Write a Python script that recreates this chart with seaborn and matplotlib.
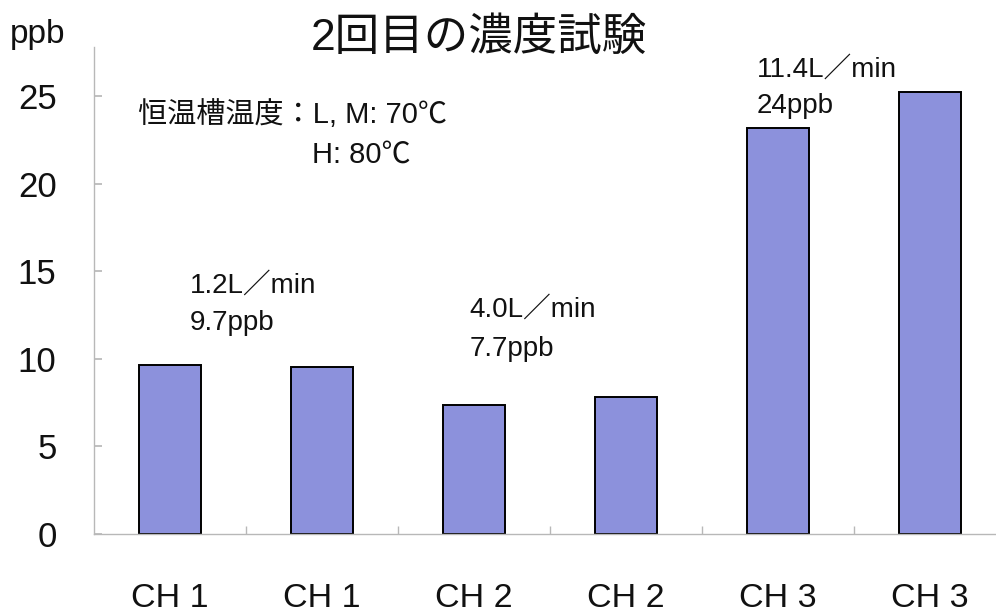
import matplotlib
matplotlib.use("Agg")
import matplotlib.pyplot as plt
import seaborn as sns
import pandas as pd

# data
channels = ["CH 1", "CH 1", "CH 2", "CH 2", "CH 3", "CH 3"]
conc_ppb = [9.66, 9.56, 7.38, 7.82, 23.2, 25.2]
flow_notes = ["1.2L／min", "4.0L／min", "11.4L／min"]
mean_notes = ["9.7ppb", "7.7ppb", "24ppb"]
yticks = [0, 5, 10, 15, 20, 25]

sns.set_theme(style="white")
plt.rcParams["font.family"] = ["Liberation Sans", "Noto Sans CJK JP", "DejaVu Sans"]

df = pd.DataFrame({"pos": range(len(channels)), "ppb": conc_ppb})

fig = plt.figure(figsize=(9.96, 6.15), dpi=100)
ax = fig.add_axes([0.0944, 0.1317, 0.9157, 0.792])

sns.barplot(data=df, x="pos", y="ppb", color="#8c91dc", saturation=1,
            width=0.41, edgecolor="black", linewidth=1.4, ax=ax)

ax.set_xlim(-0.5, 5.5)
ax.set_ylim(0, 27.8)
ax.set_yticks(yticks)
ax.set_yticklabels([str(t) for t in yticks], fontsize=25)
ax.set_xticks(range(len(channels)))
ax.set_xticklabels(channels, fontsize=24.5)
ax.set_xticks([i + 0.5 for i in range(len(channels) - 1)], minor=True)
ax.set_xlabel("")
ax.set_ylabel("")

for s in ["top", "right"]:
    ax.spines[s].set_visible(False)
for s in ["left", "bottom"]:
    ax.spines[s].set_color("#b8b8b8")
    ax.spines[s].set_linewidth(1.0)

ax.tick_params(axis="y", direction="in", length=6, color="#b8b8b8",
               pad=27, left=True, labelcolor="#111111")
ax.tick_params(axis="x", which="major", length=0, pad=35, labelcolor="#111111")
ax.tick_params(axis="x", which="minor", direction="in", length=6,
               color="#b8b8b8", bottom=True)

# annotations
note_x = [0.13, 1.97, 3.86]
flow_y = [14.2, 12.8, 26.5]
mean_y = [12.05, 10.57, 24.45]
for x, yf, ym, f, m in zip(note_x, flow_y, mean_y, flow_notes, mean_notes):
    ax.text(x, yf, f, fontsize=20, ha="left", va="center", color="#111111")
    ax.text(x, ym, m, fontsize=20, ha="left", va="center", color="#111111")

ax.text(-0.21, 23.95, "恒温槽温度：L, M: 70℃", fontsize=21, ha="left",
        va="center", color="#111111")
ax.text(0.934, 21.65, "H: 80℃", fontsize=21, ha="left", va="center",
        color="#111111")

fig.text(0.481, 1 - 38 / 615, "2回目の濃度試験", fontsize=32, ha="center",
         va="center", color="#111111")
fig.text(0.01, 1 - 35 / 615, "ppb", fontsize=24, ha="left", va="center",
         color="#111111")

fig.savefig("out.png", dpi=100)
